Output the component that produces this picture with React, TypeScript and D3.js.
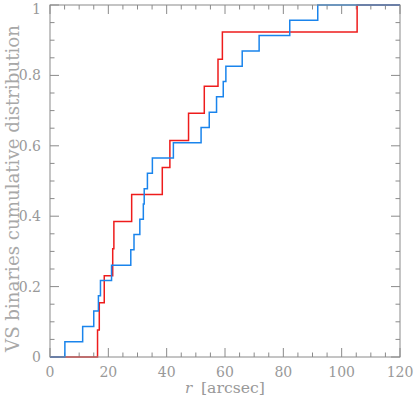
import React from "react";
import * as d3 from "d3";

const redValues = [16.3, 16.9, 18.6, 21.5, 21.9, 28.0, 38.5, 41.1, 47.5, 52.9, 57.6, 59.1, 105.3];
const blueValues = [5.1, 11.2, 15.0, 16.6, 17.3, 21.1, 27.7, 28.8, 30.8, 32.0, 32.3, 33.4, 35.1, 42.3, 51.8, 54.6, 57.1, 59.4, 60.3, 65.9, 71.7, 82.2, 91.8];
const xMajorTicks = [0, 20, 40, 60, 80, 100, 120];
const yMajorTicks = [0, 0.2, 0.4, 0.6, 0.8, 1];
const xMinorStep = 5;
const yMinorStep = 0.05;

const W = 415, H = 399;
const L = 50, R = 400, T = 5, B = 357;

function ecdf(vals: number[]) {
  const s = [...vals].sort((a, b) => a - b);
  const n = s.length;
  const pts: [number, number][] = [[0, 0]];
  s.forEach((v, i) => pts.push([v, (i + 1) / n]));
  pts.push([120, 1]);
  return pts;
}

export default function App() {
  const x = d3.scaleLinear().domain([0, 120]).range([L, R]);
  const y = d3.scaleLinear().domain([0, 1]).range([B, T]);
  const line = d3.line<[number, number]>().x(d => x(d[0])).y(d => y(d[1])).curve(d3.curveStepAfter);

  const xMinor = d3.range(0, 120.001, xMinorStep).filter(v => !xMajorTicks.some(m => Math.abs(m - v) < 1e-6));
  const yMinor = d3.range(0, 1.0001, yMinorStep).filter(v => !yMajorTicks.some(m => Math.abs(m - v) < 1e-6));

  const axisColor = "#8a8a8a";
  const textColor = "#999999";
  const font = "DejaVu Serif";
  const maj = 9, min = 4.5;

  return (
    <svg width={W} height={H} style={{ position: "absolute", left: 0, top: 0, background: "#fff" }}>
      <rect x={0} y={0} width={W} height={H} fill="#fff" />
      {/* ticks */}
      <g stroke={axisColor} strokeWidth={1}>
        {xMajorTicks.map(v => (
          <g key={"xM" + v}>
            <line x1={x(v)} x2={x(v)} y1={B} y2={B - maj} />
            <line x1={x(v)} x2={x(v)} y1={T} y2={T + maj} />
          </g>
        ))}
        {xMinor.map(v => (
          <g key={"xm" + v}>
            <line x1={x(v)} x2={x(v)} y1={B} y2={B - min} />
            <line x1={x(v)} x2={x(v)} y1={T} y2={T + min} />
          </g>
        ))}
        {yMajorTicks.map(v => (
          <g key={"yM" + v}>
            <line x1={L} x2={L + maj} y1={y(v)} y2={y(v)} />
            <line x1={R} x2={R - maj} y1={y(v)} y2={y(v)} />
          </g>
        ))}
        {yMinor.map(v => (
          <g key={"ym" + v}>
            <line x1={L} x2={L + min} y1={y(v)} y2={y(v)} />
            <line x1={R} x2={R - min} y1={y(v)} y2={y(v)} />
          </g>
        ))}
      </g>
      {/* data */}
      <path d={line(ecdf(redValues)) || ""} fill="none" stroke="#ee1c1c" strokeWidth={1.5} />
      <path d={line(ecdf(blueValues)) || ""} fill="none" stroke="#1a84ec" strokeWidth={1.5} />
      {/* frame */}
      <rect x={L} y={T} width={R - L} height={B - T} fill="none" stroke={axisColor} strokeWidth={1} />
      {/* tick labels */}
      <g fill={textColor} fontFamily={font} fontSize={14}>
        {xMajorTicks.map(v => (
          <text key={"xl" + v} x={x(v)} y={377} textAnchor="middle">{String(v)}</text>
        ))}
        {yMajorTicks.map(v => (
          <text key={"yl" + v} x={41} y={Math.max(y(v) + 5, 14)} textAnchor="end">{String(v)}</text>
        ))}
      </g>
      {/* axis labels */}
      <g fill={textColor} fontFamily={font} fontSize={15}>
        <text x={185} y={393} fontStyle="italic">r</text>
        <text x={201} y={393} textLength={64} lengthAdjust="spacingAndGlyphs">[arcsec]</text>
      </g>
      <text
        transform={`translate(18.5, ${(352 + 25) / 2}) rotate(-90)`}
        textAnchor="middle"
        fill="#a8a8a8"
        fontFamily={font}
        fontSize={18}
        textLength={327}
        lengthAdjust="spacingAndGlyphs"
      >VS binaries cumulative distribution</text>
    </svg>
  );
}
